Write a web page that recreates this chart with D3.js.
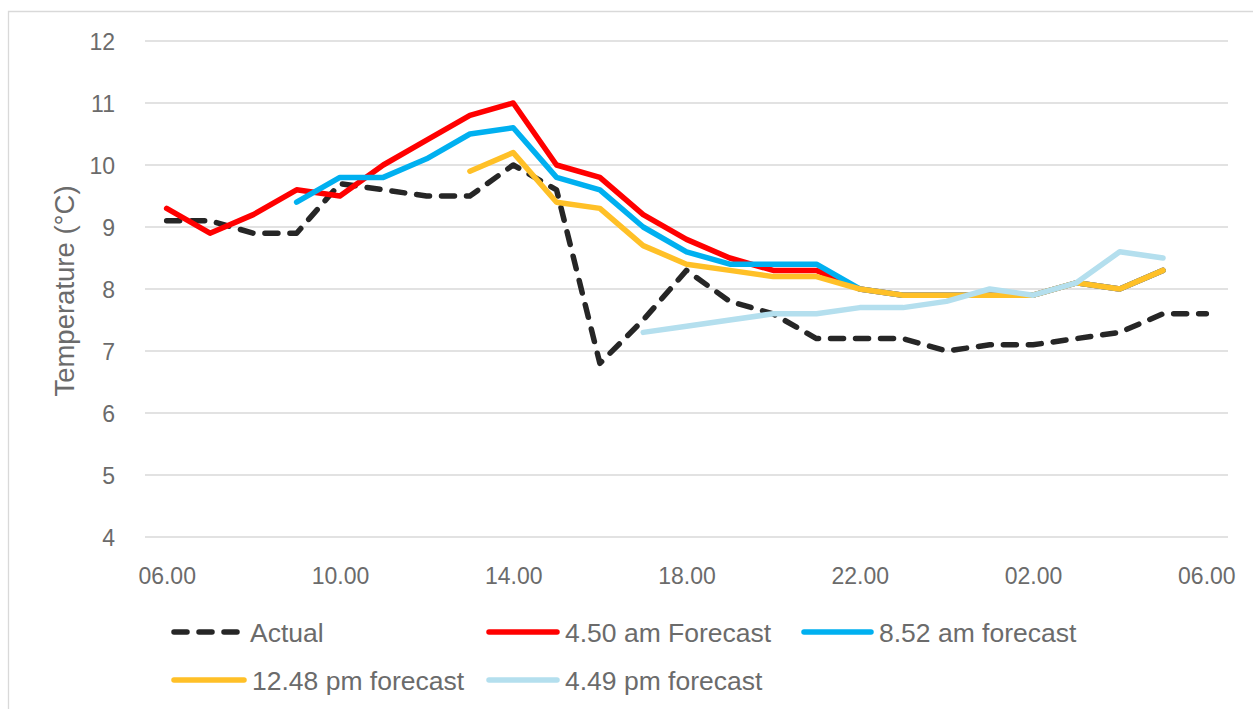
<!DOCTYPE html>
<html>
<head>
<meta charset="utf-8">
<script src="https://cdn.jsdelivr.net/npm/d3@7"></script>
<style>
  html, body { margin: 0; padding: 0; background: #fff; }
  svg { display: block; font-family: "Liberation Sans", Arial, sans-serif; }
</style>
</head>
<body>
<svg id="chart" width="1253" height="709"></svg>
<script>
// ---- data ----
const hours = ["06.00","07.00","08.00","09.00","10.00","11.00","12.00","13.00","14.00","15.00","16.00","17.00",
               "18.00","19.00","20.00","21.00","22.00","23.00","00.00","01.00","02.00","03.00","04.00","05.00","06.00"];
const tickIdx = [0, 4, 8, 12, 16, 20, 24];
const yTicks = [4, 5, 6, 7, 8, 9, 10, 11, 12];

const actual   = [9.1, 9.1, 8.9, 8.9, 9.7, 9.6, 9.5, 9.5, 10.0, 9.6, 6.8, 7.5, 8.3, 7.8, 7.6, 7.2, 7.2, 7.2, 7.0, 7.1, 7.1, 7.2, 7.3, 7.6, 7.6];
const fc0450   = [9.3, 8.9, 9.2, 9.6, 9.5, 10.0, 10.4, 10.8, 11.0, 10.0, 9.8, 9.2, 8.8, 8.5, 8.3, 8.3, 8.0, 7.9, 7.9, 7.9, 7.9, 8.1, 8.0, 8.3, null];
const fc0852   = [null, null, null, 9.4, 9.8, 9.8, 10.1, 10.5, 10.6, 9.8, 9.6, 9.0, 8.6, 8.4, 8.4, 8.4, 8.0, 7.9, 7.9, 7.9, 7.9, 8.1, 8.0, 8.3, null];
const fc1248   = [null, null, null, null, null, null, null, 9.9, 10.2, 9.4, 9.3, 8.7, 8.4, 8.3, 8.2, 8.2, 8.0, 7.9, 7.9, 7.9, 7.9, 8.1, 8.0, 8.3, null];
const fc1649   = [null, null, null, null, null, null, null, null, null, null, null, 7.3, 7.4, 7.5, 7.6, 7.6, 7.7, 7.7, 7.8, 8.0, 7.9, 8.1, 8.6, 8.5, null];

const seriesNames  = ["Actual", "4.50 am Forecast", "8.52 am forecast", "12.48 pm forecast", "4.49 pm forecast"];
const seriesValues = [actual, fc0450, fc0852, fc1248, fc1649];
const seriesColors = ["#262626", "#FF0000", "#00B0F0", "#FFC027", "#B4DFEE"];

// ---- layout ----
const svg = d3.select("#chart");
const textColor = "#6b6b6b";
const gridColor = "#D9D9D9";

// outer frame
svg.append("path")
  .attr("d", "M8.5,709 L8.5,11.5 L1253,11.5")
  .attr("fill", "none").attr("stroke", gridColor).attr("stroke-width", 1.3);

const x = d3.scalePoint().domain(d3.range(hours.length)).range([145, 1228]).padding(0.5);
const y = d3.scaleLinear().domain([4, 12]).range([537, 41]);

// gridlines
svg.append("g").selectAll("line").data(yTicks).join("line")
  .attr("x1", 145).attr("x2", 1228)
  .attr("y1", d => y(d)).attr("y2", d => y(d))
  .attr("stroke", gridColor).attr("stroke-width", 1.5);

// y axis labels
const yAxis = d3.axisLeft(y).tickValues(yTicks).tickSize(0).tickPadding(0).tickFormat(d3.format("d"));
const gy = svg.append("g").attr("transform", "translate(115,0)").call(yAxis);
gy.select(".domain").remove();
gy.selectAll("text").attr("fill", textColor).attr("font-size", 23)
  .attr("font-family", "Liberation Sans, Arial, sans-serif").attr("dy", "0.35em");

// x axis labels
const xAxis = d3.axisBottom(x).tickValues(tickIdx).tickSize(0).tickPadding(0).tickFormat(i => hours[i]);
const gx = svg.append("g").attr("transform", "translate(0,568)").call(xAxis);
gx.select(".domain").remove();
gx.selectAll("text").attr("fill", textColor).attr("font-size", 23)
  .attr("font-family", "Liberation Sans, Arial, sans-serif").attr("dy", "0.71em");

// y axis title
svg.append("text")
  .attr("transform", "translate(74,291) rotate(-90)")
  .attr("text-anchor", "middle")
  .attr("fill", textColor).attr("font-size", 27.5)
  .text("Temperature (°C)");

// lines
const line = d3.line()
  .defined(d => d != null)
  .x((d, i) => x(i))
  .y(d => y(d));

seriesValues.forEach((vals, k) => {
  svg.append("path")
    .datum(vals)
    .attr("fill", "none")
    .attr("stroke", seriesColors[k])
    .attr("stroke-width", 5.5)
    .attr("stroke-linejoin", "round")
    .attr("stroke-linecap", "round")
    .attr("stroke-dasharray", k === 0 ? "13,12" : null)
    .attr("d", line(vals));
});

// legend
const legendPos = [
  {lx: 174, ly: 632, tx: 250},
  {lx: 489, ly: 632, tx: 565},
  {lx: 804, ly: 632, tx: 879},
  {lx: 174, ly: 680, tx: 252},
  {lx: 489, ly: 680, tx: 565}
];
const lg = svg.append("g");
seriesNames.forEach((name, k) => {
  const p = legendPos[k];
  const lineEnd = p.tx - 8;
  lg.append("line")
    .attr("x1", p.lx).attr("x2", lineEnd)
    .attr("y1", p.ly).attr("y2", p.ly)
    .attr("stroke", seriesColors[k]).attr("stroke-width", 5.5)
    .attr("stroke-linecap", "round")
    .attr("stroke-dasharray", k === 0 ? "13,12" : null);
  lg.append("text")
    .attr("x", p.tx).attr("y", p.ly + 10)
    .attr("fill", textColor).attr("font-size", 26.5)
    .text(name);
});
</script>
</body>
</html>
